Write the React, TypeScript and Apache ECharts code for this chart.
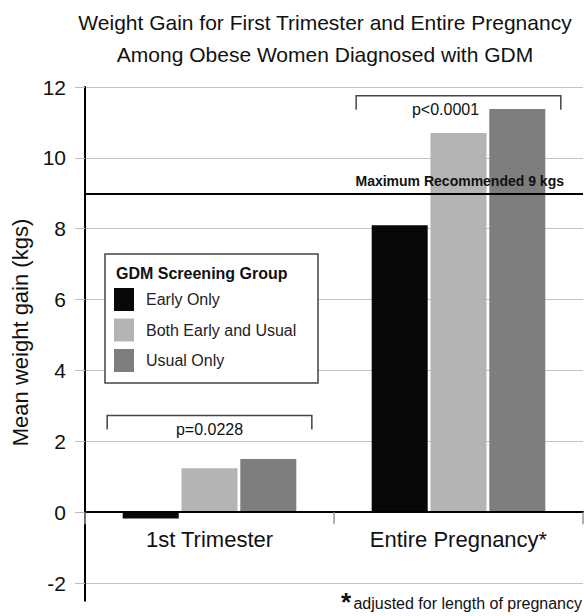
import React, { useEffect, useRef } from "react";
import * as echarts from "echarts";

const categories = ["1st Trimester", "Entire Pregnancy*"];
const seriesNames = ["Early Only", "Both Early and Usual", "Usual Only"];
const earlyOnly = [-0.18, 8.1];
const bothEarlyUsual = [1.24, 10.7];
const usualOnly = [1.5, 11.38];
const seriesColors = ["#080808", "#b4b4b4", "#7e7e7e"];
const yTicks = { min: -2, max: 12, interval: 2 };
const maxRecommended = 9;
const bracketTops = [2.73, 11.75];
const bracketLabels = ["p=0.0228", "p<0.0001"];

const FONT = "'Liberation Sans', Arial, sans-serif";

export default function App() {
  const ref = useRef<HTMLDivElement>(null);
  useEffect(() => {
    if (!ref.current) return;
    const chart = echarts.init(ref.current, undefined, { renderer: "svg" });
    const values = [earlyOnly, bothEarlyUsual, usualOnly];
    const labelShift = [0, -13];
    const barSeries: any[] = seriesNames.map((name, i) => ({
      name,
      type: "bar",
      xAxisIndex: 0,
      yAxisIndex: 0,
      data: values[i],
      barWidth: 56,
      barGap: "5%",
      itemStyle: { color: seriesColors[i] },
      z: 2,
    }));
    barSeries[0].markLine = {
      silent: true,
      symbol: ["none", "none"],
      lineStyle: { color: "#000", width: 2, type: "solid" },
      label: {
        show: true,
        position: "insideEndTop",
        formatter: "Maximum Recommended 9 kgs",
        fontFamily: FONT,
        fontWeight: "bold",
        fontSize: 14,
        color: "#111",
        distance: [19, 5],
      },
      data: [{ yAxis: maxRecommended }],
    };
    const pxPerUnit = 496 / (yTicks.max - yTicks.min);
    const option: any = {
      animation: false,
      textStyle: { fontFamily: FONT },
      legend: {
        data: seriesNames,
        orient: "vertical",
        left: 114,
        top: 288,
        padding: 0,
        itemWidth: 20,
        itemHeight: 23,
        itemGap: 7.5,
        icon: "rect",
        z: 10,
        textStyle: {
          fontFamily: FONT,
          fontSize: 16,
          color: "#222",
          padding: [0, 0, 0, 7],
        },
      },
      grid: [
        { left: 85, right: 1, top: 87, height: 496 },
        { left: 85, right: 1, top: 87, height: pxPerUnit * 14.5 },
        { left: 85, right: 1, top: 87, height: pxPerUnit * 12 },
      ],
      xAxis: [
        {
          type: "category",
          gridIndex: 0,
          data: categories,
          axisLine: { onZero: true, lineStyle: { color: "#000", width: 2 } },
          axisTick: { show: true, length: 12, lineStyle: { color: "#999", width: 1.5 } },
          axisLabel: { show: false },
          splitLine: { show: false },
          z: 3,
        },
        { type: "value", gridIndex: 1, min: 0, max: 1, show: false },
        {
          type: "category",
          gridIndex: 2,
          data: categories,
          axisLine: { show: false, onZero: false },
          axisTick: { show: false },
          axisLabel: { show: true, fontFamily: FONT, fontSize: 22, color: "#111", margin: 16 },
          splitLine: { show: false },
        },
      ],
      yAxis: [
        {
          type: "value",
          gridIndex: 0,
          min: yTicks.min,
          max: yTicks.max,
          interval: yTicks.interval,
          name: "Mean weight gain (kgs)",
          nameLocation: "middle",
          nameGap: 52,
          nameTextStyle: { fontFamily: FONT, fontSize: 22, color: "#111", padding: [0, 0, 0, 5] },
          axisLine: { show: false },
          axisTick: { show: true, length: 10, lineStyle: { color: "#bbb" } },
          axisLabel: { fontFamily: FONT, fontSize: 21, color: "#111", margin: 19 },
          splitLine: { show: true, lineStyle: { color: "#c4c4c4", width: 1 } },
        },
        {
          type: "value",
          gridIndex: 1,
          min: -2.5,
          max: 12,
          axisLine: { show: true, lineStyle: { color: "#000", width: 2 } },
          axisTick: { show: false },
          axisLabel: { show: false },
          splitLine: { show: false },
        },
        {
          type: "value",
          gridIndex: 2,
          min: 0,
          max: 12,
          show: false,
        },
      ],
      series: [
        ...barSeries,
        {
          type: "custom",
          name: "brackets",
          xAxisIndex: 0,
          yAxisIndex: 0,
          z: 5,
          data: bracketTops.map((v, i) => [i, v]),
          renderItem: (params: any, api: any) => {
            const p = api.coord([api.value(0), api.value(1)]);
            const band = api.size([1, 0])[0];
            const half = band * 0.411;
            const drop = 14;
            return {
              type: "group",
              children: [
                {
                  type: "polyline",
                  shape: {
                    points: [
                      [p[0] - half, p[1] + drop],
                      [p[0] - half, p[1]],
                      [p[0] + half, p[1]],
                      [p[0] + half, p[1] + drop],
                    ],
                  },
                  style: { stroke: "#444", lineWidth: 1.5, fill: "none" },
                },
                {
                  type: "text",
                  x: p[0] + labelShift[params.dataIndex],
                  y: p[1] + 14,
                  style: {
                    text: bracketLabels[params.dataIndex],
                    fontFamily: FONT,
                    fontSize: 16,
                    fill: "#111",
                    align: "center",
                    verticalAlign: "middle",
                  },
                },
              ],
            };
          },
        },
        { type: "line", xAxisIndex: 1, yAxisIndex: 1, data: [], silent: true },
        { type: "line", xAxisIndex: 2, yAxisIndex: 2, data: [], silent: true },
      ],
      graphic: [
        {
          type: "text",
          x: 325,
          y: 6,
          style: {
            text: "Weight Gain for First Trimester and Entire Pregnancy\nAmong Obese Women Diagnosed with GDM",
            fontFamily: FONT,
            fontSize: 21,
            fill: "#111",
            align: "center",
            verticalAlign: "top",
            lineHeight: 32,
          },
        },
        {
          type: "rect",
          z: 8,
          shape: { x: 105, y: 254, width: 213, height: 129 },
          style: { fill: "#fff", stroke: "#444", lineWidth: 1.5 },
        },
        {
          type: "text",
          z: 11,
          x: 116,
          y: 273,
          style: {
            text: "GDM Screening Group",
            fontFamily: FONT,
            fontSize: 16,
            fontWeight: "bold",
            fill: "#111",
            verticalAlign: "middle",
          },
        },
        {
          type: "text",
          z: 11,
          x: 582,
          y: 603,
          style: {
            text: "adjusted for length of pregnancy",
            fontFamily: FONT,
            fontSize: 16,
            fill: "#111",
            align: "right",
            verticalAlign: "middle",
          },
        },
        {
          type: "text",
          z: 11,
          x: 351,
          y: 602,
          style: {
            text: "*",
            fontFamily: FONT,
            fontSize: 26,
            fontWeight: "bold",
            fill: "#111",
            align: "right",
            verticalAlign: "middle",
          },
        },
      ],
    };
    chart.setOption(option);
    return () => chart.dispose();
  }, []);
  return (
    <div
      ref={ref}
      style={{ position: "absolute", left: 0, top: 0, width: 584, height: 616 }}
    />
  );
}
